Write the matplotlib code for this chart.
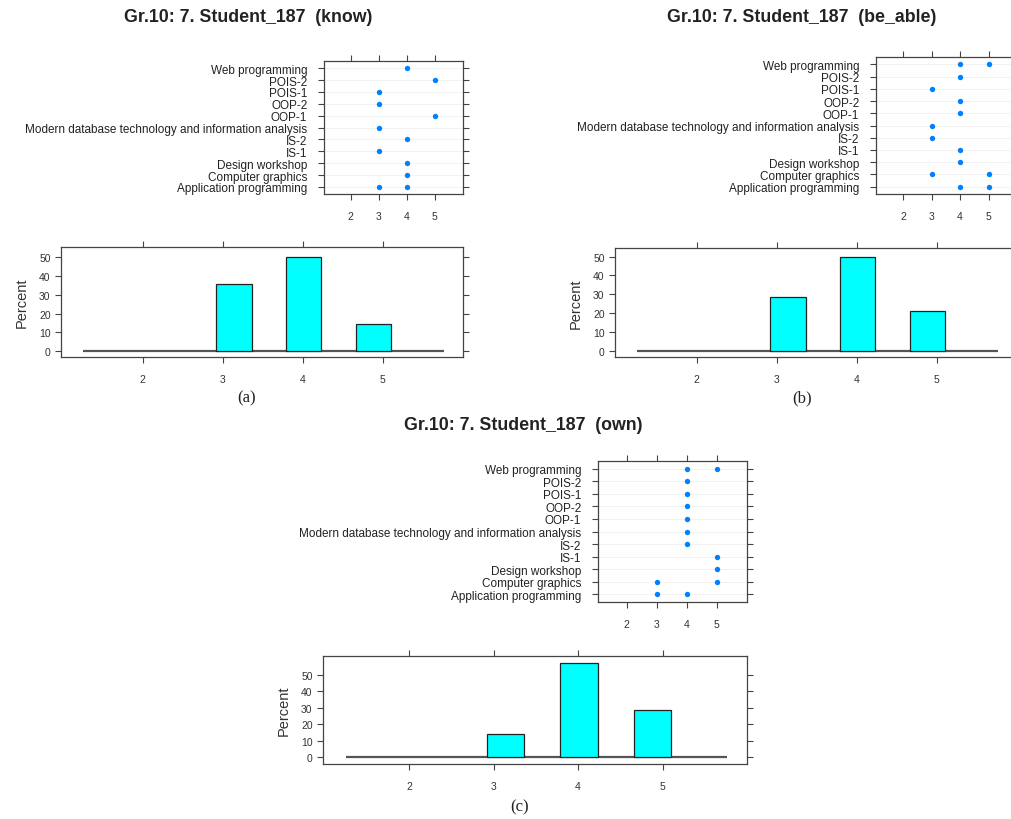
import matplotlib
matplotlib.use("Agg")
import matplotlib.pyplot as plt

plt.rcParams['font.family'] = ['Liberation Sans', 'DejaVu Sans']

# ---------------- data ----------------
subjects = ["Application programming", "Computer graphics", "Design workshop", "IS-1", "IS-2",
            "Modern database technology and information analysis", "OOP-1", "OOP-2",
            "POIS-1", "POIS-2", "Web programming"]

# (subject, score) pairs per panel
know_subj = ["Web programming", "POIS-2", "POIS-1", "OOP-2", "OOP-1",
             "Modern database technology and information analysis", "IS-2", "IS-1",
             "Design workshop", "Computer graphics", "Application programming", "Application programming"]
know_score = [4, 5, 3, 3, 5, 3, 4, 3, 4, 4, 3, 4]

able_subj = ["Web programming", "Web programming", "POIS-2", "POIS-1", "OOP-2", "OOP-1",
             "Modern database technology and information analysis", "IS-2", "IS-1",
             "Design workshop", "Computer graphics", "Computer graphics",
             "Application programming", "Application programming"]
able_score = [4, 5, 4, 3, 4, 4, 3, 3, 4, 4, 3, 5, 4, 5]

own_subj = ["Web programming", "Web programming", "POIS-2", "POIS-1", "OOP-2", "OOP-1",
            "Modern database technology and information analysis", "IS-2", "IS-1",
            "Design workshop", "Computer graphics", "Computer graphics",
            "Application programming", "Application programming"]
own_score = [4, 5, 4, 4, 4, 4, 4, 4, 5, 5, 3, 5, 3, 4]

# histogram: bar left edges (on the axis scale), bar width, percents
hist_left = [2.92, 3.79, 4.66]
hist_width = 0.44
know_pct = [35.7, 50.0, 14.3]
able_pct = [28.6, 50.0, 21.4]
own_pct = [14.3, 57.1, 28.6]
hist_base = [1.25, 5.76]   # extent of zero-height bins

score_ticks = [2, 3, 4, 5]
pct_ticks = [0, 10, 20, 30, 40, 50]

titles = ["Gr.10: 7. Student_187  (know)", "Gr.10: 7. Student_187  (be_able)",
          "Gr.10: 7. Student_187  (own)"]
captions = ["(a)", "(b)", "(c)"]

# ---------------- drawing ----------------
W, H = 1012, 820
fig = plt.figure(figsize=(W / 100, H / 100), dpi=100)

FRAME = "#444444"
TXT = "#333333"


def rect(x0, y0, x1, y1):
    return [x0 / W, 1 - y1 / H, (x1 - x0) / W, (y1 - y0) / H]


def style(ax):
    for s in ax.spines.values():
        s.set_color(FRAME)
        s.set_linewidth(0.9)
    ax.tick_params(direction="out", length=4, width=0.8, color=FRAME,
                   top=True, right=True, labeltop=False, labelright=False,
                   labelsize=7.5, labelcolor=TXT)


def dotplot(box, subj, score):
    ax = fig.add_axes(rect(*box))
    style(ax)
    ypos = {s: i for i, s in enumerate(subjects)}
    for i in range(len(subjects)):
        ax.axhline(i, color="#f0f0f0", lw=0.6, zorder=0)
    ax.scatter(score, [ypos[s] for s in subj], s=15, color="#0080ff",
               zorder=3, linewidths=0)
    ax.set_xlim(1.05, 6.0)
    ax.set_ylim(-0.6, len(subjects) - 0.4)
    ax.set_xticks(score_ticks)
    ax.set_yticks(range(len(subjects)))
    ax.set_yticklabels(subjects, fontsize=8.5, color="#222222")
    ax.tick_params(axis="x", pad=8)
    ax.tick_params(axis="y", pad=8)
    return ax


def histplot(box, pct, ylim, cap_xy):
    ax = fig.add_axes(rect(*box))
    style(ax)
    ax.hlines(0, hist_base[0], hist_base[1], color="#555555", lw=1.6, zorder=2)
    ax.bar(hist_left, pct, width=hist_width, align="edge", color="#00ffff",
           edgecolor="#222222", linewidth=0.9, zorder=3)
    ax.set_xlim(0.98, 6.0)
    ax.set_ylim(*ylim)
    ax.set_xticks(score_ticks)
    ax.set_yticks(pct_ticks)
    ax.tick_params(axis="x", pad=8)
    ax.set_ylabel("Percent", fontsize=10.5, color=TXT, labelpad=7)
    fig.text(cap_xy[0] / W, 1 - cap_xy[1] / H, cap_xy[2], ha="center", va="center",
             fontsize=12, family=["Liberation Serif", "DejaVu Serif"], color="#222222")
    return ax


def title(x, y, s):
    fig.text(x / W, 1 - y / H, s, ha="center", va="center", fontsize=12.8,
             fontweight="bold", color="#222222")


# (a)
title(248, 18, titles[0])
dotplot((324, 62, 463, 195), know_subj, know_score)
histplot((61, 248, 463, 358), know_pct, (-3.2, 55.5), (247, 398, captions[0]))

# (b)
title(802, 18, titles[1])
dotplot((876, 58, 1017, 195), able_subj, able_score)
histplot((615, 249, 1017, 358), able_pct, (-3.2, 54.5), (802, 398, captions[1]))

# (c)
title(523, 426, titles[2])
dotplot((598, 462, 747, 603), own_subj, own_score)
histplot((323, 657, 747, 765), own_pct, (-4.2, 61.5), (520, 807, captions[2]))

fig.savefig("out.png", dpi=100, facecolor="white")
